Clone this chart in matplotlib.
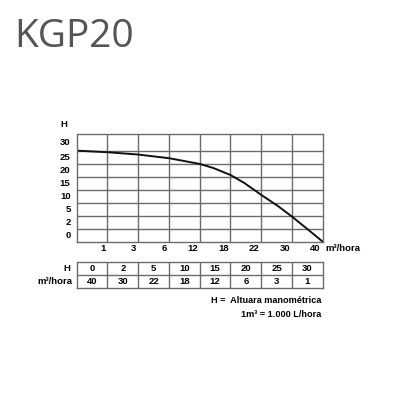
import matplotlib.pyplot as plt

curva_x = [0, 1, 2, 3, 4, 4.45, 5, 5.46, 6, 6.54, 7, 7.54, 8]
curva_y = [7.0, 6.88, 6.7, 6.42, 5.98, 5.66, 5.13, 4.5, 3.6, 2.75, 1.93, 0.9, 0.0]

# etiquetas de ejes
caudal_ticks = ["1", "3", "6", "12", "18", "22", "30", "40"]
altura_ticks = ["0", "2", "5", "10", "15", "20", "25", "30"]

# tabla
tabla_H = [0, 2, 5, 10, 15, 20, 25, 30]
tabla_Q = [40, 30, 22, 18, 12, 6, 3, 1]

FONT = "Liberation Sans"
GRID = "#6b6b6b"
TOP = 8.28  # la fila superior es mas alta

fig = plt.figure(figsize=(4, 4), dpi=100)
fig.patch.set_facecolor("white")

fig.text(14/400, 1 - 47/400, "KGP20", fontsize=28, color="#555555",
         family="Open Sans", ha="left", va="baseline")

### grafico
ax = fig.add_axes([76.7/400, 1 - 241.7/400, 246/400, 107.7/400])
ax.set_xlim(0, 8)
ax.set_ylim(0, TOP)
for i in range(1, 8):
    ax.axvline(i, color=GRID, lw=1.0)
    ax.axhline(i, color=GRID, lw=1.0)
for s in ax.spines.values():
    s.set_color(GRID)
    s.set_linewidth(1.0)
ax.set_xticks([])
ax.set_yticks([])
ax.plot(curva_x, curva_y, color="#111111", lw=1.4, solid_capstyle="round")

for i, lab in enumerate(caudal_ticks):
    ax.text(i + 1 - 0.06, -0.55, lab, ha="right", va="center", fontsize=6.8,
            fontweight="bold", family=FONT)
ax.text(8.08, -0.55, "m³/hora", ha="left", va="center", fontsize=6.8,
        fontweight="bold", family=FONT)

ypos = [0.5, 1.5, 2.5, 3.5, 4.5, 5.5, 6.5, (7 + TOP) / 2]
for p, lab in zip(ypos, altura_ticks):
    ax.text(-0.2, p, lab, ha="right", va="center", fontsize=6.8,
            fontweight="bold", family=FONT)
ax.text(-0.3, TOP + 0.7, "H", ha="right", va="center", fontsize=6.8,
        fontweight="bold", family=FONT)

### tabla
tb = fig.add_axes([76.7/400, 1 - 288/400, 246/400, 26/400])
tb.set_xlim(0, 8)
tb.set_ylim(0, 2)
tb.axhline(1, color=GRID, lw=1.0)
for i in range(1, 8):
    tb.axvline(i, color=GRID, lw=1.0)
for s in tb.spines.values():
    s.set_color(GRID)
    s.set_linewidth(1.0)
tb.set_xticks([])
tb.set_yticks([])
for i in range(8):
    tb.text(i + 0.5, 1.5, str(tabla_H[i]), ha="center", va="center",
            fontsize=6.8, fontweight="bold", family=FONT)
    tb.text(i + 0.5, 0.5, str(tabla_Q[i]), ha="center", va="center",
            fontsize=6.8, fontweight="bold", family=FONT)
tb.text(-0.2, 1.5, "H", ha="right", va="center", fontsize=6.8,
        fontweight="bold", family=FONT)
tb.text(-0.15, 0.5, "m³/hora", ha="right", va="center", fontsize=6.8,
        fontweight="bold", family=FONT)

fig.text(321/400, 1 - 300.7/400, "H =  Altuara manométrica", ha="right",
         va="center", fontsize=6.6, fontweight="bold", family=FONT)
fig.text(321/400, 1 - 314.3/400, "1m³ = 1.000 L/hora", ha="right",
         va="center", fontsize=6.6, fontweight="bold", family=FONT)

fig.savefig("out.png", dpi=100, facecolor="white")
